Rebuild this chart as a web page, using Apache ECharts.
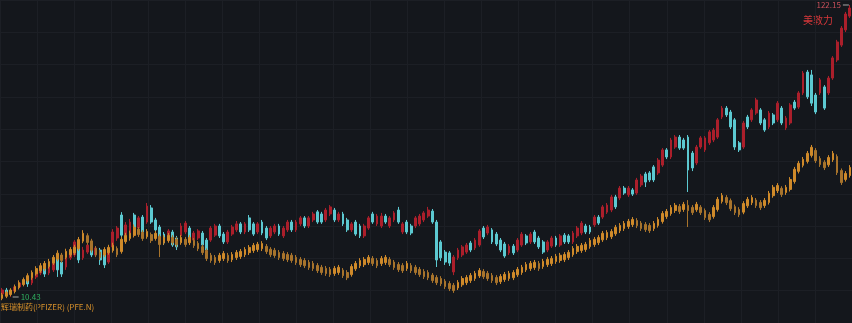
<!DOCTYPE html>
<html>
<head>
<meta charset="utf-8">
<script src="https://cdn.jsdelivr.net/npm/echarts@6/dist/echarts.min.js"></script>
<style>
html,body{margin:0;padding:0;background:#14171c;}
#c{width:852px;height:323px;}
</style>
</head>
<body>
<div id="c"></div>
<script>
// Medtronic (美敦力) candles: [open, close, low, high]
const medtronic = [
[11.6,13.1,10.8,13.9],[13.1,12.0,11.2,13.9],[11.6,12.7,10.43,13.5],[12.7,14.3,12.3,15.0],[14.3,15.8,13.5,16.6],
[15.4,16.9,14.6,17.7],[16.9,15.4,14.3,17.3],[15.8,18.1,15.0,18.8],[18.1,20.0,17.3,20.8],[19.6,21.5,18.8,22.3],
[22.3,19.2,18.1,23.4],[19.6,22.3,18.8,23.1],[20.8,23.8,20.0,24.6],[25.4,20.8,18.1,26.5],[23.8,19.2,18.1,24.6],
[21.9,26.5,20.8,27.3],[25.4,28.4,24.6,29.2],[26.5,31.5,25.7,32.2],[29.2,24.6,23.4,29.9],[25.4,28.4,24.6,29.6],
[27.6,30.3,26.9,31.1],[29.9,26.5,25.7,30.7],[26.5,29.2,25.7,29.9],[28.4,24.6,22.7,29.2],[26.5,22.7,21.5,27.6],
[23.8,29.2,23.1,29.9],[29.6,35.3,28.8,36.4],[33.0,36.8,31.9,37.6],[41.8,34.1,33.0,42.9],[34.1,38.0,33.4,39.1],
[33.8,39.1,33.0,40.3],[41.8,35.3,34.5,42.6],[36.8,40.7,36.1,41.4],[41.0,35.3,34.5,41.8],[39.1,45.2,38.4,46.4],
[44.5,39.1,38.4,45.6],[39.9,36.1,35.3,40.7],[37.2,33.0,31.9,38.0],[34.5,31.1,30.3,35.3],[32.2,35.7,31.5,36.4],
[35.3,30.3,29.6,36.1],[33.0,29.6,28.4,33.8],[33.8,37.6,33.0,38.7],[35.3,38.7,34.5,39.5],[36.8,32.2,31.5,37.6],
[32.2,34.9,31.5,35.7],[33.0,35.7,32.2,36.4],[34.9,30.3,29.6,35.7],[32.2,28.4,27.6,33.0],[32.2,36.8,31.5,37.6],
[34.1,37.6,33.4,38.4],[37.6,33.8,33.0,38.4],[34.5,31.5,30.7,35.3],[31.5,35.3,30.7,36.1],[34.5,37.2,33.8,38.0],
[36.1,38.4,35.3,39.5],[38.4,35.3,34.5,39.1],[35.3,38.4,34.5,39.1],[40.7,36.1,35.3,41.8],[38.4,34.5,33.8,39.1],
[35.3,38.4,34.5,39.1],[39.1,34.9,34.1,39.9],[36.8,33.0,32.2,37.6],[33.8,36.8,33.0,37.6],[35.3,37.6,34.5,38.4],
[37.6,34.5,33.8,38.4],[33.8,36.8,33.0,37.6],[36.1,39.1,35.3,39.9],[39.1,36.1,35.3,39.9],[36.1,39.1,35.3,39.9],
[38.4,40.7,37.6,41.4],[40.7,37.6,36.8,41.4],[37.6,40.7,36.8,41.4],[39.9,42.2,39.1,43.0],[43.0,39.1,38.4,43.7],
[42.2,39.1,38.4,43.0],[39.9,43.7,39.1,44.5],[42.2,44.9,41.4,45.6],[43.7,39.9,39.1,44.5],[39.9,42.2,39.1,43.0],
[42.2,38.4,37.6,43.0],[39.9,36.1,35.3,40.7],[36.1,38.4,35.3,39.1],[39.1,34.5,33.8,39.9],[37.6,33.8,33.0,38.4],
[33.8,37.6,33.0,38.4],[36.8,40.7,36.1,41.4],[42.2,39.1,38.4,43.0],[38.4,41.4,37.6,42.2],[37.6,41.4,36.8,42.6],
[41.4,39.1,38.4,42.2],[37.6,40.7,36.8,41.4],[39.9,42.6,39.1,43.3],[43.7,39.1,38.4,44.9],[35.3,38.4,34.5,39.1],
[39.1,35.3,34.5,39.9],[37.6,34.9,34.1,38.4],[37.6,40.7,36.8,41.4],[38.4,41.4,37.6,42.2],[39.9,42.6,39.1,43.3],
[41.4,43.7,40.7,44.9],[43.3,39.1,38.4,44.1],[39.1,24.6,21.9,39.9],[31.5,25.4,24.2,32.2],[27.6,23.8,22.7,28.4],
[27.3,23.4,22.3,28.0],[20.0,25.7,18.8,26.5],[25.4,28.4,24.6,29.2],[26.5,29.6,25.7,30.3],[27.6,30.3,26.9,31.1],
[31.1,28.4,27.6,31.9],[29.2,32.2,28.4,33.0],[30.3,35.7,29.6,36.4],[36.8,33.4,32.6,37.6],[34.9,37.2,34.1,38.0],
[36.1,31.5,30.7,36.8],[34.5,30.7,29.9,35.3],[32.2,28.4,27.6,33.0],[30.7,26.1,25.4,31.5],[27.3,29.9,26.5,30.7],
[29.9,27.3,26.5,30.7],[28.4,32.2,27.6,33.0],[30.3,34.5,29.6,35.3],[33.8,31.1,30.3,34.5],[31.5,34.5,30.7,35.3],
[35.3,31.5,30.7,36.1],[33.0,29.6,28.8,33.8],[31.5,27.6,26.9,32.2],[28.4,31.5,27.6,32.2],[29.9,33.0,29.2,33.8],
[33.0,30.3,29.6,33.8],[30.3,33.8,29.6,34.5],[34.1,31.5,30.7,34.9],[33.8,31.5,30.7,34.5],[31.5,34.9,30.7,35.7],
[33.8,36.8,33.0,37.6],[34.9,38.7,34.1,39.5],[37.6,35.3,34.5,38.4],[37.2,35.3,34.5,38.0],[38.0,41.0,37.2,41.8],
[41.0,38.7,38.0,41.8],[41.0,44.9,40.3,45.6],[42.9,45.6,42.2,46.4],[43.7,48.7,42.9,49.5],[48.7,44.9,44.1,49.5],
[48.3,52.1,47.5,52.9],[52.1,50.2,49.5,52.9],[49.5,52.1,48.7,52.9],[51.4,49.8,49.1,52.1],[50.2,55.2,49.5,56.0],
[53.3,56.7,52.5,57.5],[57.5,54.4,52.5,58.3],[57.9,55.2,54.4,58.6],[60.2,55.2,54.4,60.9],[57.9,62.8,57.1,63.6],
[60.9,66.7,60.2,67.4],[66.7,64.0,63.2,67.4],[64.0,70.5,63.2,71.3],[67.8,71.6,67.1,72.4],[71.6,67.4,66.7,72.4],
[70.5,67.4,66.7,71.3],[71.6,59.0,50.6,72.4],[65.5,59.8,58.6,66.3],[61.7,67.8,60.9,68.6],[67.8,71.3,67.1,72.0],
[66.7,71.3,65.9,72.0],[69.4,73.6,68.6,74.3],[70.5,74.3,69.7,75.1],[71.6,78.2,70.9,78.9],[79.3,82.7,78.5,83.5],
[82.7,80.1,79.3,83.5],[81.2,75.5,74.7,82.0],[78.2,67.8,66.7,78.9],[69.4,66.7,65.9,70.1],[67.8,77.0,67.1,77.8],
[79.3,75.5,74.7,80.1],[78.2,82.0,77.4,82.7],[80.8,85.8,80.1,86.6],[82.0,77.0,76.2,82.7],[78.2,74.3,73.6,78.9],
[75.5,80.8,74.7,81.6],[80.1,77.0,76.2,80.8],[78.2,84.6,77.4,85.4],[82.7,77.0,76.2,83.5],[75.1,78.9,74.3,79.7],
[77.0,83.9,76.2,84.6],[85.0,82.7,82.0,85.8],[83.1,88.5,82.4,89.2],[88.5,96.1,87.7,96.9],[96.5,87.0,86.2,97.3],
[95.4,84.6,83.5,97.3],[87.7,81.2,80.4,88.5],[88.5,93.5,87.7,94.2],[90.8,82.7,82.0,91.5],[88.5,94.2,87.7,95.0],
[94.2,101.9,93.5,102.6],[101.1,108.0,100.3,108.8],[106.8,113.3,106.1,114.1],[112.6,118.7,111.8,119.5],[117.9,121.0,117.2,122.15]
];

// Pfizer (辉瑞制药) overlay candles on the same scale: [open, close, low, high]
const pfizer = [
[9.9,11.3,9.2,12.0],[10.7,12.2,10.0,12.9],[11.4,13.1,10.8,13.8],[12.5,14.4,11.8,15.2],[14.0,15.9,13.3,16.8],
[15.2,17.1,14.5,17.9],[16.6,18.6,15.9,19.5],[17.8,19.8,17.0,20.6],[19.3,21.3,18.6,22.2],[20.5,22.4,19.7,23.4],
[21.2,23.3,20.4,24.2],[22.1,24.0,21.3,25.0],[23.4,25.6,22.7,26.5],[24.9,27.2,24.1,28.3],[26.5,24.4,23.5,27.3],
[25.6,27.9,24.9,28.9],[26.6,28.6,25.8,29.5],[27.3,29.5,26.5,30.4],[28.9,32.4,28.1,33.4],[31.8,34.8,31.0,36.0],
[33.9,31.3,30.4,34.8],[31.9,28.3,27.4,32.7],[29.0,26.6,25.7,29.9],[27.6,25.5,24.6,28.5],[26.5,28.6,25.7,29.5],
[27.4,29.4,26.6,30.4],[28.2,30.2,27.4,31.2],[29.0,26.6,25.7,29.8],[27.8,32.5,27.0,33.5],[31.6,34.0,30.8,35.0],
[32.8,34.8,32.0,35.8],[34.0,37.1,33.2,38.2],[36.4,34.3,33.4,37.2],[35.2,32.8,31.9,36.0],[33.5,35.5,32.7,36.4],
[34.3,32.0,31.1,35.1],[32.8,34.8,32.0,35.7],[33.6,30.5,25.7,34.4],[31.2,33.2,30.4,34.1],[32.0,34.0,31.2,34.9],
[33.2,31.2,30.3,34.1],[32.5,30.5,29.6,33.4],[31.2,33.2,30.4,34.1],[32.5,30.5,29.6,33.4],[31.2,33.2,30.3,34.1],
[32.1,30.1,29.2,33.0],[31.0,28.9,28.0,31.8],[29.7,27.4,26.5,30.5],[28.2,25.1,24.2,29.0],[26.4,24.4,23.5,27.3],
[25.6,23.6,22.7,26.5],[24.4,26.4,23.5,27.3],[25.1,27.1,24.2,28.0],[26.4,24.4,23.5,27.3],[24.7,26.7,23.8,27.6],
[25.5,27.5,24.6,28.4],[25.9,27.9,25.0,28.8],[26.6,28.6,25.7,29.5],[27.4,29.4,26.5,30.3],[28.2,30.2,27.3,31.1],
[28.6,30.6,27.7,31.5],[28.9,30.9,28.0,31.8],[29.8,27.8,26.9,30.7],[28.7,26.6,25.7,29.5],[28.3,26.3,25.4,29.2],
[27.5,25.5,24.6,28.4],[27.1,25.1,24.2,28.0],[26.7,24.7,23.8,27.6],[26.4,24.4,23.5,27.3],[25.6,23.6,22.7,26.5],
[24.8,22.8,21.9,25.7],[24.4,22.4,21.5,25.3],[23.7,21.7,20.8,24.6],[23.3,21.3,20.4,24.2],[22.5,20.5,19.6,23.4],
[21.8,19.8,18.9,22.7],[21.4,19.4,18.5,22.3],[21.0,19.0,18.1,21.9],[19.4,21.4,18.5,22.3],[19.8,21.8,18.9,22.7],
[20.7,18.6,17.7,21.5],[19.8,17.8,16.9,20.7],[19.0,22.1,18.2,23.0],[21.2,23.3,20.4,24.2],[22.4,24.4,21.5,25.3],
[22.8,24.8,21.9,25.7],[23.6,25.6,22.7,26.5],[25.2,23.2,22.3,26.1],[24.4,22.4,21.5,25.3],[23.2,25.2,22.3,26.1],
[23.6,25.6,22.7,26.5],[24.8,22.8,21.9,25.7],[23.8,21.7,20.8,24.6],[22.9,20.9,20.0,23.8],[22.5,20.5,19.6,23.4],
[21.3,23.3,20.4,24.2],[22.5,20.5,19.6,23.4],[21.8,19.8,18.9,22.7],[21.0,19.0,18.1,21.9],[20.2,18.2,17.3,21.1],
[19.8,17.8,16.9,20.7],[18.8,16.7,15.8,19.6],[17.9,15.9,15.0,18.8],[17.5,15.5,14.6,18.4],[16.5,14.4,13.5,17.3],
[15.6,13.6,12.7,16.5],[14.9,12.9,12.0,15.8],[13.9,16.0,13.1,16.9],[15.1,17.5,14.3,18.4],[15.9,17.9,15.0,18.8],
[16.7,18.7,15.8,19.6],[17.5,19.5,16.6,20.4],[18.5,20.6,17.7,21.5],[20.2,18.2,17.3,21.1],[19.5,17.5,16.6,20.4],
[18.7,16.7,15.8,19.6],[17.9,15.9,15.0,18.8],[16.3,18.3,15.4,19.2],[17.1,19.1,16.2,20.0],[17.5,19.5,16.6,20.4],
[17.8,19.8,16.9,20.7],[18.9,21.0,18.1,21.9],[19.8,21.8,18.9,22.7],[20.8,22.9,20.0,23.8],[21.3,23.3,20.4,24.2],
[21.7,23.7,20.8,24.6],[23.3,21.3,20.4,24.2],[22.1,24.1,21.2,25.0],[22.8,24.8,21.9,25.7],[23.2,25.2,22.3,26.1],
[24.0,26.0,23.1,26.9],[24.4,26.4,23.5,27.3],[24.7,26.7,23.8,27.6],[25.5,27.5,24.6,28.4],[26.6,29.0,25.8,29.9],
[27.8,29.8,26.9,30.7],[28.2,30.2,27.3,31.1],[28.6,30.6,27.7,31.5],[29.7,32.1,28.9,33.0],[30.5,32.5,29.6,33.4],
[31.2,33.2,30.3,34.1],[32.3,34.8,31.5,35.7],[33.1,35.1,32.2,36.0],[33.5,35.5,32.6,36.4],[34.6,37.1,33.8,38.0],
[35.8,37.8,34.9,38.7],[36.6,38.6,35.7,39.5],[37.4,39.4,36.5,40.3],[38.1,40.1,37.2,41.0],[39.7,37.7,36.8,40.6],
[38.7,36.6,35.7,39.5],[38.2,36.2,35.3,39.1],[37.8,35.8,34.9,38.7],[36.6,38.6,35.7,39.5],[37.8,40.1,37.0,41.0],
[39.3,42.4,38.5,43.3],[41.2,43.2,40.3,44.1],[42.3,44.7,41.5,45.6],[43.5,45.5,42.6,46.4],[45.1,43.1,42.2,46.0],
[43.9,45.9,43.0,46.8],[45.5,43.5,37.2,47.5],[44.7,42.7,41.8,45.6],[43.8,45.9,43.0,46.8],[44.8,42.7,41.8,45.6],
[43.5,40.8,39.9,44.3],[42.0,40.0,39.1,42.9],[41.2,44.7,40.4,45.6],[43.9,47.8,43.1,48.7],[47.0,49.3,46.2,50.2],
[48.5,46.5,45.6,49.4],[47.3,44.2,43.3,48.1],[45.0,42.7,41.8,45.8],[43.9,41.9,41.0,44.8],[42.9,46.2,42.1,47.1],
[45.3,47.8,44.5,48.7],[46.5,48.5,45.6,49.4],[47.5,45.4,44.5,48.3],[46.6,44.6,43.7,47.5],[45.4,47.4,44.5,48.3],
[46.6,50.1,45.8,51.0],[49.2,52.4,48.4,53.3],[51.1,53.1,50.2,54.0],[52.0,49.6,48.7,52.8],[50.4,52.4,49.5,53.3],
[51.6,55.4,50.8,56.3],[54.6,59.3,53.8,60.2],[58.5,61.6,57.7,62.5],[60.8,63.1,60.0,64.0],[62.3,65.4,61.5,66.3],
[64.6,67.7,63.8,68.6],[66.5,62.6,61.7,67.4],[63.4,61.1,60.2,64.3],[62.0,59.9,59.0,62.8],[61.0,63.8,60.2,64.7],
[62.9,65.4,62.1,66.3],[64.2,58.0,57.1,65.0],[58.8,54.2,53.3,59.6],[55.4,57.7,54.6,58.6],[56.9,60.0,56.1,60.9]
];

const categories = medtronic.map((d, i) => String(i + 1));
const mainName = '美敦力';
const overlayName = '辉瑞制药(PFIZER) (PFE.N)';

const chart = echarts.init(document.getElementById('c'), null, {renderer: 'canvas'});
const FONT = '"Noto Sans CJK SC","Noto Sans",sans-serif';

chart.setOption({
  backgroundColor: '#14171c',
  animation: false,
  grid: [
    {left: 0, right: 0, top: 0, bottom: 0},
    {left: 0, right: 0, top: -5, height: 334}
  ],
  xAxis: [
    {type: 'category', data: categories, gridIndex: 0, boundaryGap: true, show: false},
    {type: 'value', gridIndex: 1, min: 0, max: 23, interval: 1,
     axisLine: {show: false}, axisTick: {show: false}, axisLabel: {show: false},
     splitLine: {show: true, lineStyle: {color: '#1c1f25', width: 1}}}
  ],
  yAxis: [
    {type: 'value', gridIndex: 0, min: 0.48, max: 124.06, show: false, splitLine: {show: false}},
    {type: 'value', gridIndex: 1, min: 0, max: 10, interval: 1,
     axisLine: {show: false}, axisTick: {show: false}, axisLabel: {show: false},
     splitLine: {show: true, lineStyle: {color: '#1c1f25', width: 1}}}
  ],
  series: [
    {
      name: mainName, type: 'candlestick', xAxisIndex: 0, yAxisIndex: 0,
      data: medtronic, barWidth: '55%',
      itemStyle: {color: '#ab1f2b', color0: '#5cc9d1', borderColor: '#ab1f2b', borderColor0: '#5cc9d1', borderWidth: 1},
      markPoint: {
        symbol: 'rect', symbolSize: [6, 1],
        itemStyle: {color: '#a8a8a8'},
        label: {show: true, fontSize: 8, fontFamily: FONT, formatter: p => p.value},
        data: [
          {type: 'max', valueDim: 'highest', symbolOffset: [-4, 0],
           label: {position: 'left', distance: 2, color: '#c8505a'}},
          {type: 'min', valueDim: 'lowest', symbolOffset: [5, 0],
           label: {position: 'right', distance: 2, color: '#2fae5e'}}
        ]
      }
    },
    {
      name: overlayName, type: 'candlestick', xAxisIndex: 0, yAxisIndex: 0,
      data: pfizer, barWidth: '50%',
      itemStyle: {color: '#cf8a2a', color0: '#a8742c', borderColor: '#cf8a2a', borderColor0: '#a8742c', borderWidth: 1}
    }
  ],
  graphic: [
    {type: 'text', left: 803, top: 15, style: {text: mainName, fill: '#d8383a', font: '10px ' + FONT}},
    {type: 'text', left: 1, top: 303, style: {text: overlayName, fill: '#d9922b', font: '8px ' + FONT}}
  ]
});
</script>
</body>
</html>
